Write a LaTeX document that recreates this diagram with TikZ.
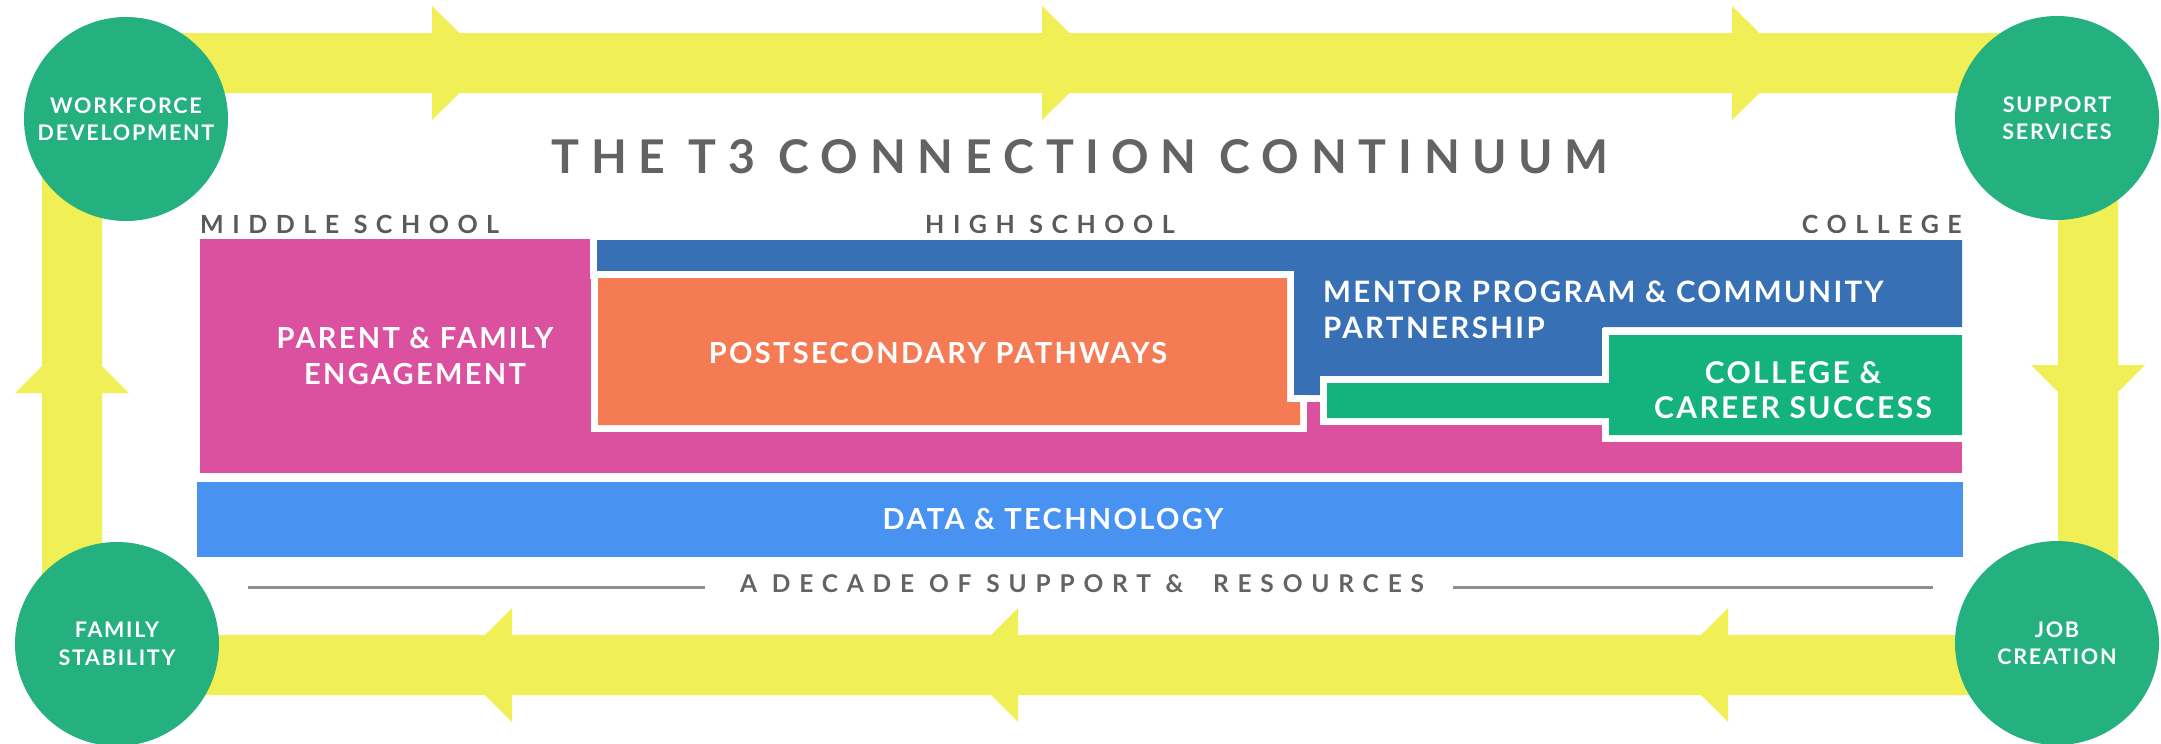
\documentclass[tikz,border=0pt]{standalone}
\usepackage{fontspec}
\setmainfont{Lato}
\newfontfamily\titlefont[LetterSpace=25.5]{Lato}
\newfontfamily\headfont[LetterSpace=34]{Lato}
\newfontfamily\decfont[LetterSpace=36]{Lato}
\newfontfamily\labfont[LetterSpace=8]{Lato}
\definecolor{band}{HTML}{F0EF55}
\definecolor{circg}{HTML}{24B07F}
\definecolor{pinkc}{HTML}{DB51A0}
\definecolor{bluec}{HTML}{3770B5}
\definecolor{orangec}{HTML}{F57B55}
\definecolor{greenc}{HTML}{14B37E}
\definecolor{datac}{HTML}{4893F2}
\definecolor{titlegrey}{HTML}{636363}
\definecolor{headgrey}{HTML}{5A5A5A}
\definecolor{linegrey}{HTML}{8E8E8E}
\begin{document}
\begin{tikzpicture}[x=1pt,y=-1pt,
  greencirc/.style={circle, fill=circg, minimum size=204pt, inner sep=0pt, text=white, align=center,
    font=\labfont\bfseries\fontsize{21.5}{27.5}\selectfont},
  lbl/.style={text=white, inner sep=0pt, align=center, font=\labfont\bfseries\fontsize{29}{35.5}\selectfont},
  head/.style={text=headgrey, inner sep=0pt, font=\headfont\bfseries\fontsize{25}{30}\selectfont},
  wb/.style={draw=white, fill=white, line width=14pt, line join=miter},
  ahead/.style={fill=band}
]
\useasboundingbox (0,0) rectangle (2161,744);
\fill[white] (0,0) rectangle (2161,744);

% yellow loop
\draw[band, line width=60pt, rounded corners=70pt] (72,63) rectangle (2088,665);
% arrowheads: top (right)
\fill[ahead] (432,6) -- (490,63) -- (432,120) -- cycle;
\fill[ahead] (1042,6) -- (1100,63) -- (1042,120) -- cycle;
\fill[ahead] (1732,6) -- (1790,63) -- (1732,120) -- cycle;
% right (down)
\fill[ahead] (2031,365) -- (2088,422) -- (2145,365) -- cycle;
% bottom (left)
\fill[ahead] (512,608) -- (455,665) -- (512,722) -- cycle;
\fill[ahead] (1018,608) -- (961,665) -- (1018,722) -- cycle;
\fill[ahead] (1728,608) -- (1671,665) -- (1728,722) -- cycle;
% left (up)
\fill[ahead] (15,393) -- (72,336) -- (129,393) -- cycle;

% circles
\node[greencirc] (wd) at (126,119) {WORKFORCE\\DEVELOPMENT};
\node[greencirc] (ss) at (2057,118) {SUPPORT\\SERVICES};
\node[greencirc] (fs) at (117,644) {FAMILY\\STABILITY};
\node[greencirc] (jc) at (2057,643) {JOB\\CREATION};

% title and headings
\node[anchor=base, inner sep=0pt, text=titlegrey, font=\titlefont\bfseries\fontsize{46.5}{50}\selectfont] (title) at (1080,173) {THE T3 CONNECTION CONTINUUM};
\node[head, anchor=base west] (ms) at (200,233) {MIDDLE SCHOOL};
\node[head, anchor=base] (hs) at (1050,233) {HIGH SCHOOL};
\node[head, anchor=base east] (col) at (1962,233) {COLLEGE};

% pink background block
\fill[pinkc] (200,239) rectangle (1962,473);
% blue mentor block
\filldraw[wb] (597,240) -- (1962,240) -- (1962,327) -- (1603,327) -- (1603,378) -- (1320,378) -- (1320,395) -- (1294,395) -- (1294,272) -- (597,272) -- cycle;
\fill[bluec] (597,240) -- (1962,240) -- (1962,327) -- (1603,327) -- (1603,378) -- (1320,378) -- (1320,395) -- (1294,395) -- (1294,272) -- (597,272) -- cycle;
% orange block
\filldraw[wb] (598,278) -- (1287,278) -- (1287,402) -- (1300,402) -- (1300,425) -- (598,425) -- cycle;
\fill[orangec] (598,278) -- (1287,278) -- (1287,402) -- (1300,402) -- (1300,425) -- (598,425) -- cycle;
% green block
\filldraw[wb] (1609,335) -- (1962,335) -- (1962,435) -- (1609,435) -- (1609,418) -- (1327,418) -- (1327,383) -- (1609,383) -- cycle;
\fill[greenc] (1609,335) -- (1962,335) -- (1962,435) -- (1609,435) -- (1609,418) -- (1327,418) -- (1327,383) -- (1609,383) -- cycle;
% data block
\fill[datac] (197,482) rectangle (1963,557);

% block labels
\node[lbl] (pfe) at (415,356) {PARENT \& FAMILY\\ENGAGEMENT};
\node[lbl] (psp) at (938,353) {POSTSECONDARY PATHWAYS};
\node[lbl, align=left, anchor=west, font=\labfont\bfseries\fontsize{29.5}{35.5}\selectfont] (mpc) at (1323,310) {MENTOR PROGRAM \& COMMUNITY\\PARTNERSHIP};
\node[lbl, font=\labfont\bfseries\fontsize{30}{35.5}\selectfont] (ccs) at (1793,390) {COLLEGE \&\\CAREER SUCCESS};
\node[lbl] (dt) at (1053,519) {DATA \& TECHNOLOGY};

% bottom text and lines
\node[anchor=base, inner sep=0pt, text=titlegrey, font=\decfont\bfseries\fontsize{24.5}{28}\selectfont] (dec) at (1082,592) {A DECADE OF SUPPORT \&\ \ RESOURCES};
\coordinate (la) at (248,587);
\coordinate (lb) at (705,587);
\coordinate (lc) at (1453,587);
\coordinate (ld) at (1933,587);
\draw[linegrey, line width=3pt] (la) -- (lb);
\draw[linegrey, line width=3pt] (lc) -- (ld);
\end{tikzpicture}
\end{document}
